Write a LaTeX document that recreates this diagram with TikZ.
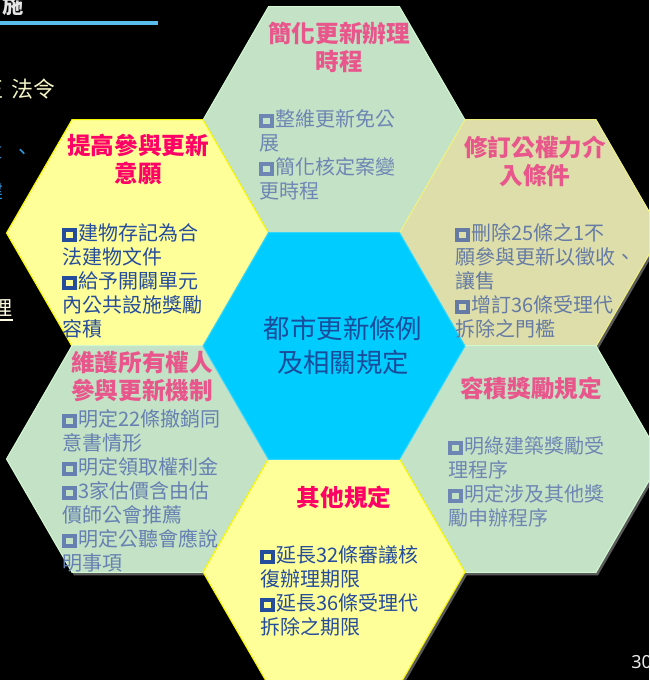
\documentclass[tikz,border=0pt]{standalone}
\usepackage{fontspec}
\setmainfont{Noto Sans CJK TC}
\newfontfamily\latinsans{Noto Sans}
\definecolor{yfill}{HTML}{FFFF99}
\definecolor{yedge}{HTML}{F5F500}
\definecolor{gfill}{HTML}{C4E2C6}
\definecolor{gedge}{HTML}{D2F8D2}
\definecolor{kfill}{HTML}{DEDEAA}
\definecolor{kedge}{HTML}{F0F080}
\definecolor{cfill}{HTML}{00CCFF}
\definecolor{shadowgray}{HTML}{5A5A5A}
\definecolor{pinkstrong}{HTML}{FF0066}
\definecolor{pinksoft}{HTML}{E8568C}
\definecolor{navy}{HTML}{264C9C}
\definecolor{mutedblue}{HTML}{6E86B4}
\definecolor{llblue}{HTML}{6680B2}
\definecolor{ctrblue}{HTML}{1A4C9C}
\definecolor{linebl}{HTML}{5ABCEE}
\definecolor{paleyel}{HTML}{F2F2C4}
\definecolor{bgblue}{HTML}{2E9AE0}
\newcommand\sqb{\raisebox{0.09em}{\setlength\fboxsep{0pt}\setlength\fboxrule{0.2em}\fbox{\rule{0pt}{0.3em}\hspace{0.32em}}}\hspace{0.1em}}
\newcommand\hexat[3]{\path[#3] (#1,#2) ++(131,0) -- ++(-65.5,-113.3) -- ++(-131,0) -- ++(-65.5,113.3) -- ++(65.5,113.3) -- ++(131,0) -- cycle;}
\tikzset{
  hexshadow/.style={fill=shadowgray},
  ttl/.style={font=\fontsize{17.7}{21}\selectfont\bfseries, align=center, anchor=north, inner sep=0pt},
  bodytxt/.style={font=\fontsize{15}{18}\selectfont, align=left, anchor=north west, inner sep=0pt},
  ctrtxt/.style={font=\fontsize{19.8}{25.5}\selectfont, align=center, anchor=north, inner sep=0pt, text=ctrblue},
  bgtxt/.style={font=\fontsize{15}{18}\selectfont, inner sep=0pt},
}
\begin{document}
\begin{tikzpicture}[x=0.75pt,y=-0.75pt]
\fill[black] (0,0) rectangle (649,680);
\useasboundingbox (0,0) rectangle (649,680);
\clip (0,0) rectangle (649,680);
% background fragments
\node[bgtxt, font=\fontsize{16}{18}\selectfont\bfseries, text=white!90!black] (shi) at (13,5.5) {施};
\coordinate (la) at (0,23);
\coordinate (lb) at (158,23);
\draw[linebl, line width=3pt] (la) -- (lb);
\node[bgtxt, font=\fontsize{16.5}{18}\selectfont, anchor=east, text=paleyel] (fl) at (55.5,89) {法令};
\node[bgtxt, font=\fontsize{16.5}{18}\selectfont, anchor=east, text=paleyel] (zh) at (4,89) {正};
\node[bgtxt, anchor=east, text=bgblue] (she) at (3,150) {設};
\node[bgtxt, anchor=base west, text=bgblue] (dun) at (12.5,160) {、};
\node[bgtxt, anchor=east, text=bgblue] (jian) at (4,191) {建};
\node[bgtxt, anchor=east, text=white!88!yellow] (li) at (13,308) {理};
\coordinate (ua) at (0,320);
\coordinate (ub) at (13,320);
\draw[white!88!yellow, line width=1pt] (ua) -- (ub);
\node[inner sep=0pt, anchor=west, text=white!92!black, font=\latinsans\fontsize{13.5}{16}\selectfont] (pg) at (631,662) {30};
% shadows
\hexat{336}{123}{hexshadow}
\hexat{139.5}{236}{hexshadow}
\hexat{532.5}{236}{hexshadow}
\hexat{336}{349}{hexshadow}
\hexat{139.5}{462}{hexshadow}
\hexat{532.5}{462}{hexshadow}
\hexat{336}{575}{hexshadow}
% hexagons
\hexat{334}{120}{fill=gfill, draw=gedge, line width=0.8pt}
\hexat{137.5}{233}{fill=yfill, draw=yedge, line width=0.8pt}
\hexat{530.5}{233}{fill=kfill, draw=kedge, line width=0.8pt}
\hexat{137.5}{459}{fill=gfill, draw=gedge, line width=0.8pt}
\hexat{530.5}{459}{fill=gfill, draw=gedge, line width=0.8pt}
\hexat{334}{572}{fill=yfill, draw=yedge, line width=0.8pt}
\hexat{334}{346}{fill=cfill, draw=cfill!80!white, line width=0.8pt}
% top
\node[ttl, text=pinksoft] (tT) at (339,22) {簡化更新辦理\\時程};
\node[bodytxt, text=mutedblue] (bT) at (259,109) {\sqb{}整維更新免公\\展\\\sqb{}簡化核定案變\\更時程};
% upper left
\node[ttl, text=pinkstrong] (tUL) at (138,134) {提高參與更新\\意願};
\node[bodytxt, text=navy] (bUL) at (62,223) {\sqb{}建物存記為合\\法建物文件\\\sqb{}給予開闢單元\\內公共設施獎勵\\容積};
% upper right
\node[ttl, text=pinksoft] (tUR) at (535,136) {修訂公權力介\\入條件};
\node[bodytxt, text=mutedblue!92!black] (bUR) at (455,223) {\sqb{}刪除25條之1不\\願參與更新以徵收、\\讓售\\\sqb{}增訂36條受理代\\拆除之門檻};
% lower left
\node[ttl, text=pinksoft] (tLL) at (142,351) {維護所有權人\\參與更新機制};
\node[bodytxt, text=llblue] (bLL) at (62,409) {\sqb{}明定22條撤銷同\\意書情形\\\sqb{}明定領取權利金\\\sqb{}3家估價含由估\\價師公會推薦\\\sqb{}明定公聽會應說\\明事項};
% lower right
\node[ttl, text=pinksoft] (tLR) at (531,377) {容積獎勵規定};
\node[bodytxt, text=mutedblue] (bLR) at (448,436) {\sqb{}明綠建築獎勵受\\理程序\\\sqb{}明定涉及其他獎\\勵申辦程序};
% bottom
\node[ttl, text=pinkstrong] (tB) at (344,486) {其他規定};
\node[bodytxt, text=navy] (bB) at (260,545) {\sqb{}延長32條審議核\\復辦理期限\\\sqb{}延長36條受理代\\拆除之期限};
% center
\node[ctrtxt] (ctr) at (343,316) {都市更新條例\\及相關規定};
\end{tikzpicture}
\end{document}
